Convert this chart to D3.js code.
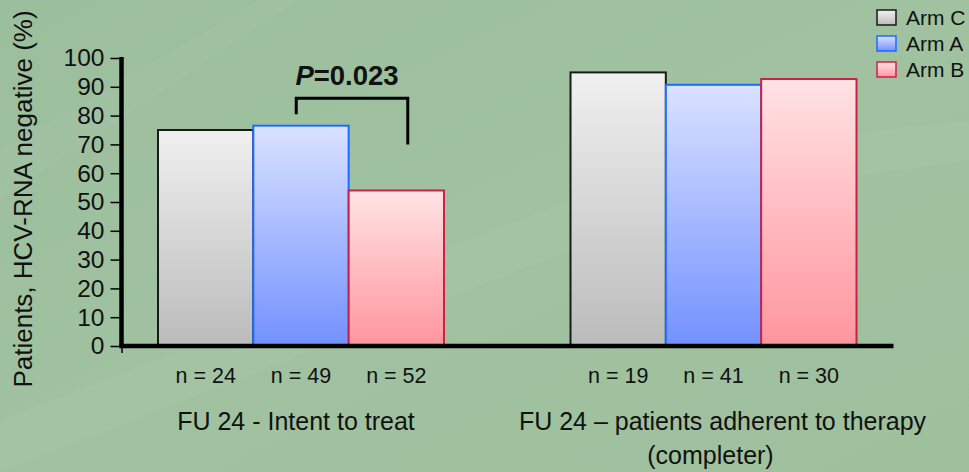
<!DOCTYPE html>
<html>
<head>
<meta charset="utf-8">
<script src="https://cdn.jsdelivr.net/npm/d3@7/dist/d3.min.js"></script>
<style>
  html, body { margin: 0; padding: 0; background: #9ec09e; }
  svg { display: block; font-family: "Liberation Sans", Arial, sans-serif; }
</style>
</head>
<body>
<svg id="chart" width="969" height="472"></svg>
<script>
// ---- data ----
const groups = ["FU 24 - Intent to treat", "FU 24 \u2013 patients adherent to therapy"];
const groupLabelLines = [["FU 24 - Intent to treat"], ["FU 24 \u2013 patients adherent to therapy", "(completer)"]];
const arms = ["Arm C", "Arm A", "Arm B"];
const armC = [75, 95];
const armA = [76.5, 90.7];
const armB = [54, 92.7];
const nLabels = [["n = 24", "n = 49", "n = 52"], ["n = 19", "n = 41", "n = 30"]];
const yTicks = [0, 10, 20, 30, 40, 50, 60, 70, 80, 90, 100];
const yTitle = "Patients, HCV-RNA negative (%)";
const pText = { italic: "P", rest: "=0.023" };
const bracket = { top: 86, leftEnd: 80.5, rightEnd: 70 };

const seriesValues = { "Arm C": armC, "Arm A": armA, "Arm B": armB };
const colors = {
  "Arm C": { top: "#f0f0f0", bottom: "#bbbbbb", stroke: "#1a1a1a" },
  "Arm A": { top: "#dae2ff", bottom: "#7391ff", stroke: "#1c6cff" },
  "Arm B": { top: "#ffe3e5", bottom: "#ff959d", stroke: "#c8224a" }
};
const labelShift = [[-5], [9, -3]];

const svg = d3.select("#chart");
const W = 969, H = 472;
const defs = svg.append("defs");

// background
const bg = defs.append("linearGradient").attr("id", "bg").attr("x1", 0).attr("y1", 0).attr("x2", 1).attr("y2", 1);
bg.append("stop").attr("offset", "0%").attr("stop-color", "#9bbe9d");
bg.append("stop").attr("offset", "50%").attr("stop-color", "#a0c2a0");
bg.append("stop").attr("offset", "100%").attr("stop-color", "#9ec09d");
svg.append("rect").attr("width", W).attr("height", H).attr("fill", "url(#bg)");
svg.append("path").attr("d", "M0,150 L260,0 L300,0 L0,200 Z").attr("fill", "#ffffff").attr("opacity", 0.04);
svg.append("path").attr("d", "M0,420 L700,150 L969,120 L969,160 L700,200 L0,472 Z").attr("fill", "#ffffff").attr("opacity", 0.03);

arms.forEach((a, i) => {
  const g = defs.append("linearGradient").attr("id", "g" + i).attr("x1", 0).attr("y1", 0).attr("x2", 0).attr("y2", 1);
  g.append("stop").attr("offset", "0%").attr("stop-color", colors[a].top);
  g.append("stop").attr("offset", "100%").attr("stop-color", colors[a].bottom);
});

// scales
const x0 = d3.scaleBand().domain(groups).range([121, 893.5]).paddingInner(0.3067).paddingOuter(0.0897);
const x1 = d3.scaleBand().domain(arms).range([0, x0.bandwidth()]).padding(0);
const y = d3.scaleLinear().domain([0, 100]).range([346, 58]);

// bars
const gGroups = svg.append("g").selectAll("g").data(groups).join("g")
  .attr("transform", d => `translate(${x0(d)},0)`);
gGroups.selectAll("rect")
  .data((d, gi) => arms.map((a, ai) => ({ arm: a, ai, v: seriesValues[a][gi] })))
  .join("rect")
  .attr("x", d => x1(d.arm))
  .attr("y", d => y(d.v))
  .attr("width", x1.bandwidth())
  .attr("height", d => y(0) - y(d.v))
  .attr("fill", d => `url(#g${d.ai})`)
  .attr("stroke", d => colors[d.arm].stroke)
  .attr("stroke-width", 2);

// y axis
const yAxis = d3.axisLeft(y).tickValues(yTicks).tickSize(11).tickPadding(6);
const ya = svg.append("g").attr("transform", "translate(121.5,0)").call(yAxis);
ya.select(".domain").remove();
ya.selectAll(".tick line").attr("stroke", "#000").attr("stroke-width", 1.5);
ya.selectAll(".tick text").attr("font-size", 24.5).attr("fill", "#111").attr("font-family", "Liberation Sans, Arial, sans-serif");
svg.append("line").attr("x1", 121.5).attr("x2", 121.5).attr("y1", y(100) - 1).attr("y2", y(0) + 2)
  .attr("stroke", "#000").attr("stroke-width", 4.5);

// x axis
svg.append("line").attr("x1", 119.5).attr("x2", x0.range()[1]).attr("y1", y(0)).attr("y2", y(0))
  .attr("stroke", "#000").attr("stroke-width", 4.5);
svg.append("line").attr("x1", 122).attr("x2", 122).attr("y1", y(0)).attr("y2", y(0) + 7)
  .attr("stroke", "#000").attr("stroke-width", 1.5);

// n labels and group labels
groups.forEach((gname, gi) => {
  arms.forEach((a, ai) => {
    svg.append("text")
      .attr("x", x0(gname) + x1(a) + x1.bandwidth() / 2)
      .attr("y", 383)
      .attr("text-anchor", "middle")
      .attr("font-size", 21.5)
      .attr("fill", "#111")
      .text(nLabels[gi][ai]);
  });
  groupLabelLines[gi].forEach((line, li) => {
    svg.append("text")
      .attr("x", x0(gname) + x0.bandwidth() / 2 + labelShift[gi][li])
      .attr("y", 430 + li * 34)
      .attr("text-anchor", "middle")
      .attr("font-size", 25)
      .attr("fill", "#111")
      .text(line);
  });
});

// y title
svg.append("text")
  .attr("transform", "translate(32,199) rotate(-90)")
  .attr("text-anchor", "middle")
  .attr("font-size", 26)
  .attr("fill", "#111")
  .text(yTitle);

// P-value bracket
const g1 = groups[0];
const bxL = x0(g1) + x1("Arm A") + x1.bandwidth() * 0.45;
const bxR = x0(g1) + x1("Arm B") + x1.bandwidth() * 0.62;
svg.append("path")
  .attr("d", `M${bxL},${y(bracket.leftEnd)} V${y(bracket.top)} H${bxR} V${y(bracket.rightEnd)}`)
  .attr("fill", "none").attr("stroke", "#000").attr("stroke-width", 3);
const pt = svg.append("text")
  .attr("x", (bxL + bxR) / 2 - 5)
  .attr("y", 85)
  .attr("text-anchor", "middle")
  .attr("font-size", 27.5)
  .attr("font-weight", "bold")
  .attr("fill", "#111");
pt.append("tspan").attr("font-style", "italic").text(pText.italic);
pt.append("tspan").text(pText.rest);

// legend
const leg = svg.append("g").attr("transform", "translate(877,0)");
arms.forEach((a, i) => {
  const row = leg.append("g").attr("transform", `translate(0,${10 + i * 26})`);
  row.append("rect").attr("x", 0).attr("y", 0).attr("width", 19).attr("height", 15)
    .attr("fill", `url(#g${i})`).attr("stroke", colors[a].stroke).attr("stroke-width", 1.5);
  row.append("text").attr("x", 29).attr("y", 15).attr("font-size", 21).attr("fill", "#111").text(a);
});
</script>
</body>
</html>
